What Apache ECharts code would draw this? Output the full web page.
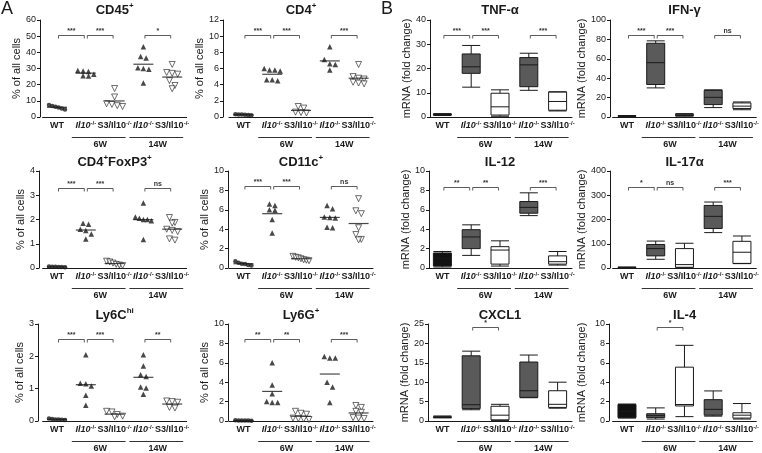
<!DOCTYPE html>
<html><head><meta charset="utf-8">
<script src="https://cdn.jsdelivr.net/npm/echarts@6.0.0/dist/echarts.min.js"></script>
<style>html,body{margin:0;padding:0;background:#fff}#c{width:762px;height:453px}</style>
</head><body><div id="c"></div>
<script>
// ---------- data ----------
const groups = ['WT', 'Il10 6W', 'S3/Il10 6W', 'Il10 14W', 'S3/Il10 14W'];
const tickLabels = ['WT', 'Il10-/-', 'S3/Il10-/-', 'Il10-/-', 'S3/Il10-/-'];
const ages = [['6W', 1, 2], ['14W', 3, 4]];

// Panel A: % of all cells, one array per group
const cd45 = [
  [7.5, 6.8, 6.3, 5.8, 5.2, 4.6],
  [28.8, 28.5, 28.2, 26.5, 25.5, 25.3],
  [17.6, 12.4, 8.2, 7.8, 7.0, 6.5],
  [43.5, 37.5, 36.5, 30.5, 30.0, 29.5, 21.0],
  [32.5, 27.5, 27.0, 26.5, 22.5, 19.5, 17.5]
];
const cd4 = [
  [0.35, 0.32, 0.3, 0.28, 0.25, 0.22],
  [6.0, 5.8, 5.8, 5.7, 4.6, 4.6, 4.5],
  [1.3, 1.1, 0.6, 0.5, 0.55],
  [8.7, 7.1, 6.6, 6.5, 5.8],
  [6.5, 5.0, 4.8, 4.7, 4.3, 4.2, 4.1]
];
const foxp3 = [
  [0.06, 0.05, 0.05, 0.04, 0.04, 0.03],
  [1.85, 1.8, 1.6, 1.55, 1.4, 1.2],
  [0.28, 0.25, 0.2, 0.15, 0.12, 0.1],
  [2.68, 2.1, 2.05, 2.0, 2.0, 1.95, 1.18],
  [2.08, 1.88, 1.85, 1.6, 1.55, 1.5, 1.2, 1.15]
];
const cd11c = [
  [0.7, 0.55, 0.45, 0.4, 0.3, 0.25],
  [6.6, 6.45, 6.0, 5.95, 5.0, 3.6],
  [1.2, 1.1, 1.05, 0.95, 0.85, 0.8, 0.75],
  [6.45, 6.1, 5.25, 5.2, 5.15, 4.2, 4.15],
  [7.15, 5.9, 5.6, 4.15, 3.45, 2.95, 2.9]
];
const ly6c = [
  [0.08, 0.06, 0.05, 0.05, 0.04, 0.03],
  [2.05, 1.17, 1.15, 1.08, 0.8, 0.49],
  [0.3, 0.28, 0.2, 0.15, 0.13],
  [2.05, 1.7, 1.43, 1.38, 1.05, 1.02, 0.83],
  [0.62, 0.6, 0.58, 0.42, 0.4]
];
const ly6g = [
  [0.08, 0.06, 0.05, 0.05, 0.04, 0.03],
  [6.0, 3.7, 2.8, 2.0, 1.9, 1.9],
  [1.0, 0.8, 0.7, 0.3, 0.25, 0.2, 0.15],
  [6.65, 6.5, 6.5, 4.0, 3.5, 1.9],
  [1.6, 1.4, 1.0, 0.9, 0.35, 0.3, 0.25]
];

// Panel B: mRNA fold change, [min, Q1, median, Q3, max] per group
const tnf = [
  [0.6, 0.8, 1.0, 1.2, 1.4],
  [12.3, 18.0, 20.7, 26.0, 29.5],
  [0.3, 0.8, 4.2, 9.8, 11.2],
  [11.0, 12.5, 21.5, 24.5, 26.3],
  [2.5, 2.8, 6.4, 10.3, 10.4]
];
const ifn = [
  [0.5, 0.8, 1.0, 1.2, 1.5],
  [30.0, 33.5, 56.0, 76.0, 78.5],
  [0.8, 1.5, 2.0, 2.8, 3.5],
  [9.7, 12.8, 20.3, 27.5, 28.0],
  [7.5, 8.8, 11.2, 14.5, 15.5]
];
const il12 = [
  [0.1, 0.2, 1.0, 1.55, 1.7],
  [1.3, 2.0, 3.2, 3.95, 4.45],
  [0.2, 0.4, 1.85, 2.2, 2.8],
  [5.4, 5.65, 6.25, 6.85, 7.75],
  [0.3, 0.4, 0.65, 1.25, 1.7]
];
const il17 = [
  [0.5, 1, 2, 3, 4],
  [36, 50, 80, 97, 111],
  [1, 3, 14, 80, 102],
  [146, 163, 213, 258, 272],
  [18, 19, 65, 110, 132]
];
const cxcl1 = [
  [0.8, 0.9, 1.0, 1.1, 1.3],
  [2.9, 3.2, 4.2, 16.8, 18.0],
  [0.1, 0.3, 1.5, 3.8, 4.3],
  [6.0, 6.1, 7.8, 15.2, 17.0],
  [3.3, 3.5, 4.3, 7.8, 10.0]
];
const il4 = [
  [0.3, 0.35, 1.0, 1.7, 1.75],
  [0.2, 0.35, 0.55, 0.75, 1.35],
  [0.45, 1.55, 1.7, 5.55, 7.8],
  [0.5, 0.6, 1.2, 2.2, 3.1],
  [0.2, 0.3, 0.6, 0.85, 1.8]
];

// significance annotations: [from group, to group, label]
const cd45Sig = [[0, 1, '***'], [1, 2, '***'], [3, 4, '*']];
const cd4Sig = [[0, 1, '***'], [1, 2, '***'], [3, 4, '***']];
const foxp3Sig = [[0, 1, '***'], [1, 2, '***'], [3, 4, 'ns']];
const cd11cSig = [[0, 1, '***'], [1, 2, '***'], [3, 4, 'ns']];
const ly6cSig = [[0, 1, '***'], [1, 2, '***'], [3, 4, '**']];
const ly6gSig = [[0, 1, '**'], [1, 2, '**'], [3, 4, '***']];
const tnfSig = [[0, 1, '***'], [1, 2, '***'], [3, 4, '***']];
const ifnSig = [[0, 1, '***'], [1, 2, '***'], [3, 4, 'ns']];
const il12Sig = [[0, 1, '**'], [1, 2, '**'], [3, 4, '***']];
const il17Sig = [[0, 1, '*'], [1, 2, 'ns'], [3, 4, '***']];
const cxcl1Sig = [[1, 2, '*']];
const il4Sig = [[1, 2, '*']];

// ---------- panels ----------
const yA = '% of all cells', yB = 'mRNA (fold change)';
const panels = [
  {kind: 'dot', row: 0, col: 0, title: 'CD45{p|+}', yName: yA, max: 60, step: 10, values: cd45, sig: cd45Sig, level: 51},
  {kind: 'dot', row: 0, col: 1, title: 'CD4{p|+}', yName: yA, max: 12, step: 2, values: cd4, sig: cd4Sig, level: 10.2},
  {kind: 'box', row: 0, col: 2, title: 'TNF-α', yName: yB, max: 40, step: 10, values: tnf, sig: tnfSig, level: 34},
  {kind: 'box', row: 0, col: 3, title: 'IFN-γ', yName: yB, max: 100, step: 20, values: ifn, sig: ifnSig, level: 84.5},
  {kind: 'dot', row: 1, col: 0, title: 'CD4{p|+}FoxP3{p|+}', yName: yA, max: 4, step: 1, values: foxp3, sig: foxp3Sig, level: 3.3},
  {kind: 'dot', row: 1, col: 1, title: 'CD11c{p|+}', yName: yA, max: 10, step: 2, values: cd11c, sig: cd11cSig, level: 8.5},
  {kind: 'box', row: 1, col: 2, title: 'IL-12', yName: yB, max: 10, step: 2, values: il12, sig: il12Sig, level: 8.3},
  {kind: 'box', row: 1, col: 3, title: 'IL-17α', yName: yB, max: 400, step: 100, values: il17, sig: il17Sig, level: 332},
  {kind: 'dot', row: 2, col: 0, title: 'Ly6C{p|hi}', yName: yA, max: 3, step: 1, values: ly6c, sig: ly6cSig, level: 2.55},
  {kind: 'dot', row: 2, col: 1, title: 'Ly6G{p|+}', yName: yA, max: 10, step: 2, values: ly6g, sig: ly6gSig, level: 8.45},
  {kind: 'box', row: 2, col: 2, title: 'CXCL1', yName: yB, max: 25, step: 5, values: cxcl1, sig: cxcl1Sig, level: 24.2},
  {kind: 'box', row: 2, col: 3, title: 'IL-4', yName: yB, max: 10, step: 2, values: il4, sig: il4Sig, level: 9.7}
];

// ---------- layout & style ----------
const FF = '"Liberation Sans", Arial, Helvetica, sans-serif';
const INK = '#1a1a1a';
const CAT_W = 28.8;
const rowTop = [20, 171, 324], rowBot = [117, 268, 421];
const bandLeft = [42.6, 229, 428, 612.6];
const axisX = [[40, 223, 430, 610], [39, 228, 429, 610], [38, 228, 428, 609]];
const nameRight = [27, 215, 413, 587];
const titleTop = [2, 154, 307];
const dotStyle = [
  {symbol: 'circle', size: 4.5, fill: INK, rot: 0},
  {symbol: 'triangle', size: 5.5, fill: INK, rot: 0},
  {symbol: 'triangle', size: 6, fill: '#fff', rot: 180},
  {symbol: 'triangle', size: 5.5, fill: INK, rot: 0},
  {symbol: 'triangle', size: 6, fill: '#fff', rot: 180}
];
const boxFill = ['#111', '#5a5a5a', '#fff', '#5a5a5a', '#fff'];

const labelRich = {
  b: {fontSize: 9, fontWeight: 'bold', color: INK, fontFamily: FF, lineHeight: 12},
  i: {fontSize: 9, fontWeight: 'bold', fontStyle: 'italic', color: INK, fontFamily: FF, lineHeight: 12},
  s: {fontSize: 6, fontWeight: 'bold', color: INK, fontFamily: FF, verticalAlign: 'top', lineHeight: 8}
};
function richLabel(t) {
  let sup = '';
  if (t.endsWith('-/-')) { sup = '{s|-/-}'; t = t.slice(0, -3); }
  if (t.startsWith('Il10')) return '{i|' + t + '}' + sup;
  return '{b|' + t + '}' + sup;
}

function swarm(vals, ppu, step, maxW) {
  const idx = vals.map((v, i) => i).sort((a, b) => vals[b] - vals[a]);
  const rows = [];
  idx.forEach(i => {
    const y = vals[i] * ppu;
    const r = rows[rows.length - 1];
    if (r && r.y0 - y < step * 0.9) r.items.push(i); else rows.push({y0: y, items: [i]});
  });
  const off = new Array(vals.length).fill(0);
  rows.forEach(r => {
    const n = r.items.length;
    const s = n > 1 ? Math.min(step, maxW / (n - 1)) : 0;
    r.items.forEach((i, j) => { off[i] = (j - (n - 1) / 2) * s; });
  });
  return off;
}

const titleRich = {p: {fontSize: 8, fontWeight: 'bold', fill: INK, fontFamily: FF, verticalAlign: 'top', lineHeight: 9}};
const option = {
  animation: false, backgroundColor: '#fff', textStyle: {fontFamily: FF},
  graphic: [
    {type: 'text', x: 1, y: 0, silent: true, style: {text: 'A', font: '18px ' + FF, fill: INK, textVerticalAlign: 'top', verticalAlign: 'top'}},
    {type: 'text', x: 381, y: 0, silent: true, style: {text: 'B', font: '18px ' + FF, fill: INK, textVerticalAlign: 'top', verticalAlign: 'top'}}
  ],
  grid: [], xAxis: [], yAxis: [], series: []
};

panels.forEach((p, k) => {
  const top = rowTop[p.row], h = rowBot[p.row] - top, left = bandLeft[p.col], w = CAT_W * 5;
  const ax = axisX[p.row][p.col];
  option.grid.push({left: left, top: top, width: w, height: h});
  option.graphic.push({
    type: 'text', x: left + w / 2, y: titleTop[p.row], silent: true,
    style: {text: p.title, font: 'bold 13px ' + FF, fill: INK, textAlign: 'center', align: 'center',
      textVerticalAlign: 'top', verticalAlign: 'top', lineHeight: 16, rich: titleRich}
  });
  option.xAxis.push({
    gridIndex: k, type: 'category', data: groups, boundaryGap: true,
    axisLine: {lineStyle: {color: INK, width: 1}}, axisTick: {show: false},
    axisLabel: {interval: 0, margin: 3, formatter: (v, i) => richLabel(tickLabels[i]), rich: labelRich},
    splitLine: {show: false}
  });
  option.yAxis.push({
    gridIndex: k, type: 'value', min: 0, max: p.max, interval: p.step, offset: left - ax,
    name: p.yName, nameLocation: 'middle', nameGap: ax - nameRight[p.col],
    nameTextStyle: {fontSize: 11, color: INK, fontFamily: FF},
    axisLine: {show: true, lineStyle: {color: INK, width: 1}},
    axisTick: {show: true, length: 3, lineStyle: {color: INK}},
    axisLabel: {fontSize: 9, color: INK, margin: 4, fontFamily: FF},
    splitLine: {show: false}
  });

  if (p.kind === 'dot') {
    const ppu = h / p.max;
    const pts = [], means = [];
    p.values.forEach((vals, ci) => {
      const offs = swarm(vals, ppu, 5.5, 16);
      const st = dotStyle[ci];
      vals.forEach((v, j) => pts.push({
        value: [ci, v], symbol: st.symbol, symbolSize: st.size, symbolRotate: st.rot,
        symbolOffset: [offs[j], 0],
        itemStyle: {color: st.fill, borderColor: INK, borderWidth: st.fill === '#fff' ? 0.8 : 0}
      }));
      means.push([ci, vals.reduce((a, b) => a + b, 0) / vals.length]);
    });
    option.series.push({type: 'scatter', xAxisIndex: k, yAxisIndex: k, data: pts, z: 3, silent: true, clip: false});
    option.series.push({type: 'scatter', xAxisIndex: k, yAxisIndex: k, data: means, symbol: 'rect',
      symbolSize: [20, 1.2], itemStyle: {color: INK}, z: 4, silent: true, clip: false});
  } else {
    option.series.push({
      type: 'boxplot', xAxisIndex: k, yAxisIndex: k, boxWidth: [18, 18], silent: true,
      data: p.values.map((b, ci) => ({value: b, itemStyle: {color: boxFill[ci], borderColor: INK, borderWidth: 1}}))
    });
  }

  // significance brackets
  option.series.push({
    type: 'custom', xAxisIndex: k, yAxisIndex: k, silent: true, clip: false, z: 5,
    data: p.sig.map(s => [s[0], p.level]),
    renderItem: (params, api) => {
      const s = p.sig[params.dataIndex];
      const a = api.coord([s[0], p.level]), b = api.coord([s[1], p.level]);
      const x1 = a[0] + 1.5, x2 = b[0] - 1.5, y = Math.round(a[1]) + 0.5;
      return {type: 'group', children: [
        {type: 'polyline', shape: {points: [[x1, y + 3], [x1, y], [x2, y], [x2, y + 3]]},
          style: {stroke: '#333', fill: null, lineWidth: 0.8}},
        {type: 'text', x: (x1 + x2) / 2, y: y - 0.5,
          style: {text: s[2], font: 'bold 7px ' + FF, fill: '#333', align: 'center', textAlign: 'center',
            verticalAlign: 'bottom', textVerticalAlign: 'bottom'}}
      ]};
    }
  });
  // age group underlines
  option.series.push({
    type: 'custom', xAxisIndex: k, yAxisIndex: k, silent: true, clip: false, z: 5,
    data: ages.map(g => [g[1], 0]),
    renderItem: (params, api) => {
      const g = ages[params.dataIndex];
      const a = api.coord([g[1], 0]), b = api.coord([g[2], 0]);
      const y = Math.round(a[1] + 20) + 0.5;
      return {type: 'group', children: [
        {type: 'line', shape: {x1: a[0] - 14, y1: y, x2: b[0] + 11, y2: y}, style: {stroke: '#333', lineWidth: 1}},
        {type: 'text', x: (a[0] + b[0]) / 2, y: y + 3,
          style: {text: g[0], font: 'bold 9px ' + FF, fill: INK, align: 'center', textAlign: 'center',
            verticalAlign: 'top', textVerticalAlign: 'top'}}
      ]};
    }
  });
});

const chart = echarts.init(document.getElementById('c'), null, {renderer: 'canvas'});
chart.setOption(option);
</script>
</body></html>
